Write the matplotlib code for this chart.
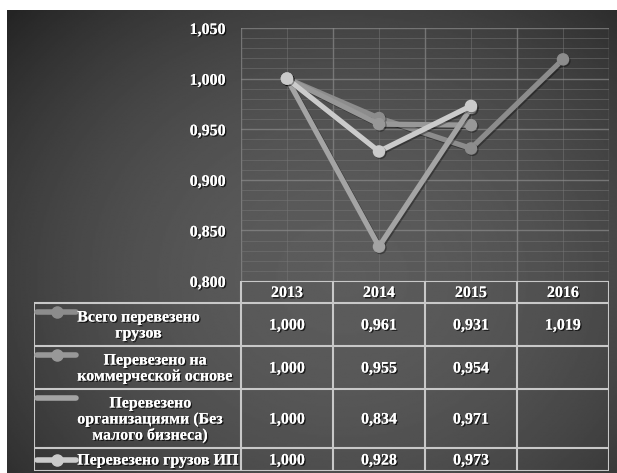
import numpy as np
import matplotlib.pyplot as plt
import matplotlib.patheffects as pe
from matplotlib.ticker import MultipleLocator

# Данные
years = ['2013', '2014', '2015', '2016']
vsego = [1.000, 0.961, 0.931, 1.019]
kommerch = [1.000, 0.955, 0.954, np.nan]
organiz = [1.000, 0.834, 0.971, np.nan]
ip = [1.000, 0.928, 0.973, np.nan]

names = ['Всего перевезено\nгрузов',
         'Перевезено на\nкоммерческой основе',
         'Перевезено\nорганизациями (Без\nмалого бизнеса)',
         'Перевезено грузов ИП']
series = [vsego, kommerch, organiz, ip]
colors = ['#8c8c8c', '#989898', '#a4a4a4', '#cbcbcb']
key_marker = [True, True, False, True]

plt.rcParams['font.family'] = ['Liberation Serif', 'DejaVu Serif']
plt.rcParams['font.weight'] = 'bold'
shadow = [pe.withSimplePatchShadow(offset=(1, -1), shadow_rgbFace='black', alpha=0.7), pe.Normal()]
FS = 11.5

W, H = 617, 473
fig = plt.figure(figsize=(W / 100, H / 100), dpi=100)
fig.patch.set_facecolor('white')

# Фон - радиальный градиент
bg = fig.add_axes([7 / W, 0, (W - 7) / W, (H - 10) / H])
yy, xx = np.mgrid[0:1:300j, 0:1:400j]
r2 = ((xx - 0.55) / 0.75) ** 2 + ((yy - 0.58) / 0.85) ** 2
grad = np.clip(0.36 - 0.22 * r2, 0.14, 1)
bg.imshow(grad, cmap='gray', vmin=0, vmax=1, aspect='auto', interpolation='bilinear')
bg.axis('off')

# График
ax = fig.add_axes([241 / W, 1 - 281 / H, 368 / W, 253 / H])
ax.patch.set_alpha(0)
x = np.arange(len(years))
for s, c in zip(series, colors):
    ax.plot(x, s, color=c, lw=3.8, marker='o', ms=8, solid_capstyle='round',
            path_effects=[pe.SimpleLineShadow(offset=(1, -1), alpha=0.35), pe.Normal()])
ax.set_xlim(-0.5, len(years) - 0.5)
ax.set_ylim(0.8, 1.05)
ax.yaxis.set_major_locator(MultipleLocator(0.05))
ax.yaxis.set_minor_locator(MultipleLocator(0.01))
ax.set_yticklabels([f'{v:.3f}'.replace('.', ',') for v in ax.get_yticks()])
ax.set_xticks(x)
ax.set_xticks(np.arange(-0.5, len(years)), minor=True)
ax.tick_params(axis='x', which='both', length=0, labelbottom=False)
ax.tick_params(axis='y', which='both', length=0, pad=11, labelsize=FS, labelcolor='white')
for lab in ax.get_yticklabels():
    lab.set_path_effects(shadow)
ax.grid(which='major', axis='y', color='#8a8a8a', lw=1, alpha=0.7)
ax.grid(which='minor', axis='y', color='#777777', lw=0.7, alpha=0.5)
ax.grid(which='minor', axis='x', color='#8a8a8a', lw=1, alpha=0.7)
ax.grid(which='major', axis='x', color='#777777', lw=0.7, alpha=0.5)
for sp in ax.spines.values():
    sp.set_visible(False)
ax.set_axisbelow(True)

# Таблица данных под графиком
tax = fig.add_axes([34 / W, 1 - 471 / H, 575 / W, 190 / H])
tax.set_xlim(-2.75, len(years) - 0.5)
tax.set_ylim(190, 0)
tax.axis('off')
edges = [0, 22, 65, 108, 167, 190]
lc = '#c8c8c8'
tax.hlines(edges[0], -0.5, 3.5, color=lc, lw=1.5)
tax.hlines(edges[1:], -2.75, 3.5, color=lc, lw=1.5)
tax.vlines(-2.75, edges[1], edges[-1], color=lc, lw=1.5)
tax.vlines(np.arange(-0.5, len(years) + 0.5), edges[0], edges[-1], color=lc, lw=1.5)

for i, yr in enumerate(years):
    tax.text(i, (edges[0] + edges[1]) / 2 + 1, yr, ha='center', va='center',
             color='white', fontsize=FS, path_effects=shadow)

for r, (s, nm, c, km) in enumerate(zip(series, names, colors, key_marker)):
    yc = (edges[r + 1] + edges[r + 2]) / 2
    for i, v in enumerate(s):
        if not np.isnan(v):
            tax.text(i, yc + 1, f'{v:.3f}'.replace('.', ','), ha='center', va='center',
                     color='white', fontsize=FS, path_effects=shadow)
    ky = edges[r + 1] + 9 if r < 3 else yc
    tax.plot([-2.715, -2.295], [ky, ky], color=c, lw=4, solid_capstyle='round')
    if km:
        tax.plot(-2.5, ky, marker='o', color=c, ms=8)
    tax.text(-2.28, yc + 1, nm, ha='left', va='center', multialignment='center',
             color='white', fontsize=FS, linespacing=1.0, path_effects=shadow)

fig.savefig('out.png', dpi=100)
